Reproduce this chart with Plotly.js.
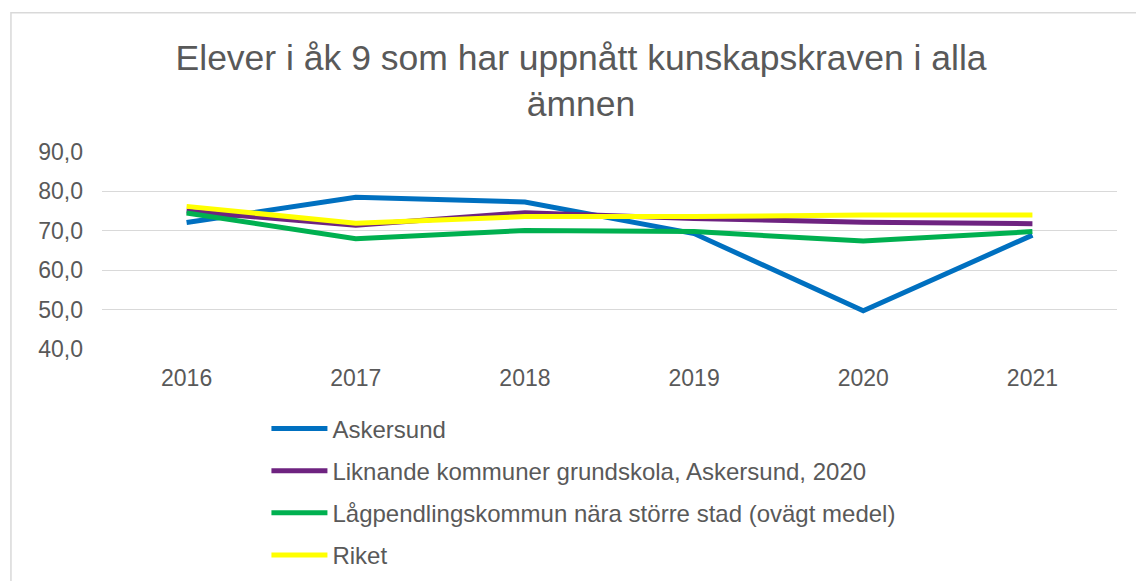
<!DOCTYPE html>
<html>
<head>
<meta charset="utf-8">
<script src="https://cdn.plot.ly/plotly-3.0.1.min.js"></script>
<style>
  html, body { margin: 0; padding: 0; background: #ffffff; }
  #chart { width: 1136px; height: 581px; }
</style>
</head>
<body>
<div id="chart"></div>
<script>
const years = ["2016", "2017", "2018", "2019", "2020", "2021"];
const askersund = [72.1, 78.5, 77.3, 69.3, 49.7, 68.9];
const liknande = [75.0, 71.4, 74.6, 73.1, 72.2, 71.8];
const lagpendling = [74.5, 68.0, 70.1, 69.8, 67.4, 69.8];
const riket = [76.2, 71.9, 73.6, 73.6, 74.0, 74.0];

const seriesNames = [
  "Askersund",
  "Liknande kommuner grundskola, Askersund, 2020",
  "Lågpendlingskommun nära större stad (ovägt medel)",
  "Riket"
];
const seriesValues = [askersund, liknande, lagpendling, riket];
const seriesColors = ["#0070C0", "#6E2380", "#00B050", "#FFFF00"];

const traces = seriesValues.map((vals, i) => ({
  type: "scatter",
  mode: "lines",
  x: years,
  y: vals,
  name: seriesNames[i],
  legendgroup: "g" + i,
  line: { color: seriesColors[i], width: 5 },
  hoverinfo: "x+y+name"
}));

const textColor = "#595959";
const fontFam = "Liberation Sans, Arial, sans-serif";

const layout = {
  width: 1136,
  height: 581,
  paper_bgcolor: "#ffffff",
  plot_bgcolor: "#ffffff",
  separators: ", ",
  margin: { l: 102, r: 19, t: 152, b: 232, autoexpand: false },
  font: { family: fontFam, color: textColor, size: 23 },
  title: {
    text: "Elever i åk 9 som har uppnått kunskapskraven i alla<br>ämnen",
    font: { family: fontFam, size: 35.5, color: textColor },
    x: 0.472,
    xanchor: "center",
    xref: "paper",
    yref: "container",
    y: 0.879,
    yanchor: "top"
  },
  xaxis: {
    type: "category",
    range: [-0.5, 5.5],
    showgrid: false,
    zeroline: false,
    showline: false,
    ticks: "",
    ticklabelstandoff: 13,
    tickfont: { family: fontFam, size: 23, color: textColor }
  },
  yaxis: {
    range: [40, 90],
    dtick: 10,
    tick0: 40,
    tickformat: ".1f",
    showgrid: true,
    gridcolor: "#d9d9d9",
    gridwidth: 1.3,
    zeroline: false,
    showline: false,
    ticks: "",
    ticklabelstandoff: 18,
    tickfont: { family: fontFam, size: 23, color: textColor }
  },
  showlegend: true,
  legend: {
    orientation: "v",
    x: 0.162,
    xanchor: "left",
    y: -0.291,
    yanchor: "top",
    traceorder: "grouped",
    tracegroupgap: 8,
    itemwidth: 56,
    font: { family: fontFam, size: 24, color: textColor },
    bgcolor: "rgba(0,0,0,0)"
  },
  shapes: [
    {
      type: "rect",
      xref: "paper", yref: "paper",
      x0: -0.0897, x1: 1.03,
      y0: -1.3, y1: 1.7067,
      line: { color: "#d9d9d9", width: 1.5 },
      fillcolor: "rgba(0,0,0,0)",
      layer: "below"
    }
  ]
};

Plotly.newPlot("chart", traces, layout, { displayModeBar: false });
</script>
</body>
</html>
